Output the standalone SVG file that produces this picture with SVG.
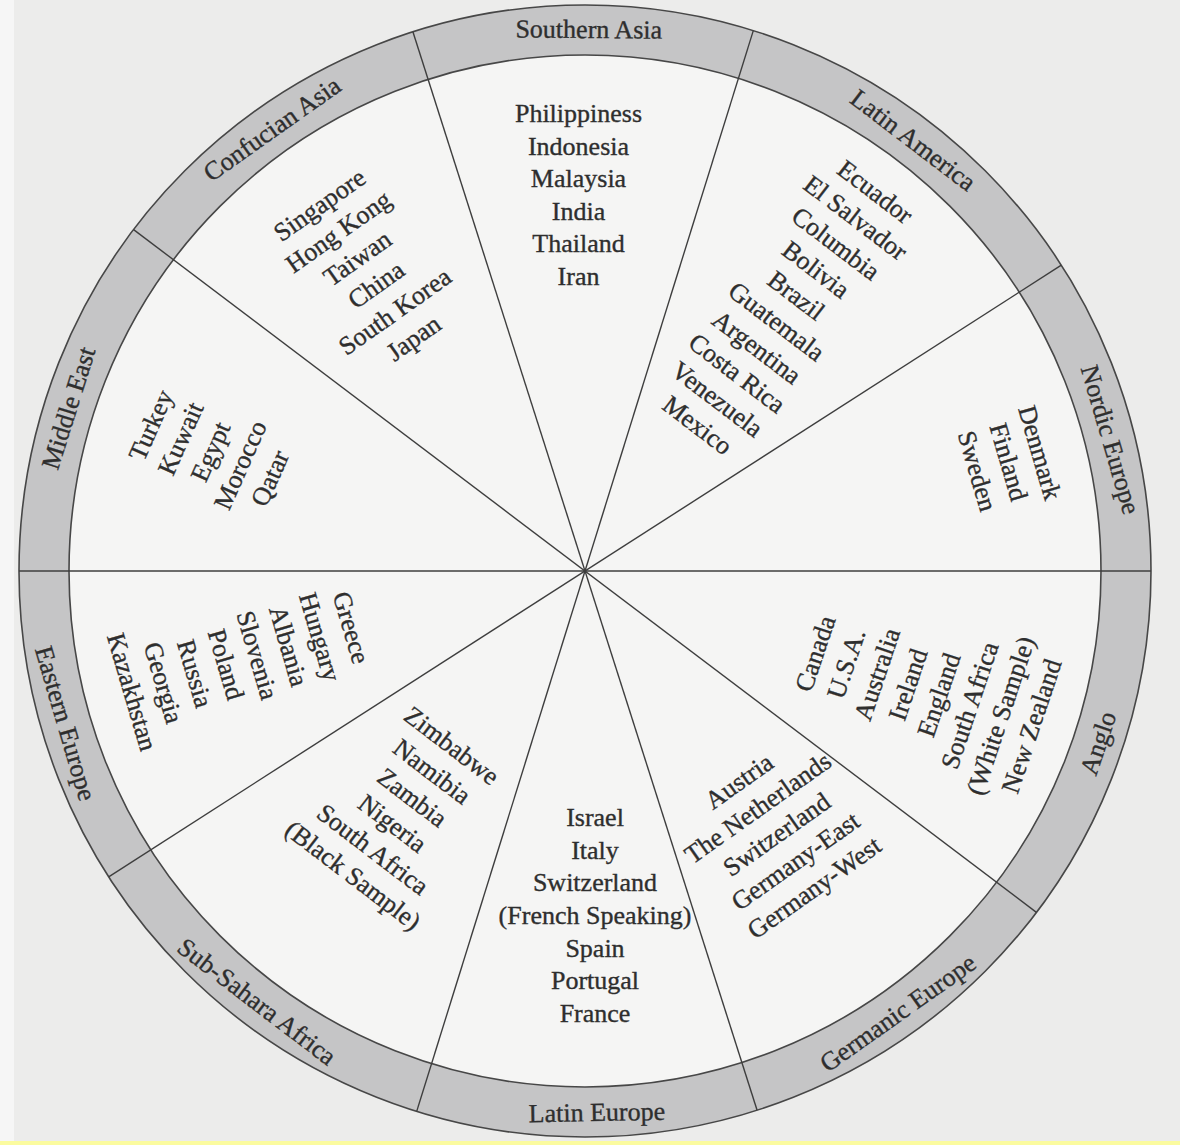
<svg xmlns="http://www.w3.org/2000/svg" width="1180" height="1145" viewBox="0 0 1180 1145">
  <style>
    text { font-family: "Liberation Serif", "Times New Roman", serif; font-size: 26px; fill: #2e2e2e; stroke: #2e2e2e; stroke-width: 0.35; text-anchor: middle; }
    .band { fill: #c5c5c6; stroke: #474747; stroke-width: 1.6; fill-rule: evenodd; }
    .disc { fill: #f5f5f4; }
    #dividers line { stroke: #3e3e3e; stroke-width: 1.4; }
  </style>

  <!-- page -->
  <rect width="1180" height="1145" fill="#ececeb"/>
  <rect x="0" y="0" width="14" height="1145" fill="#f6f6f6"/>
  <rect x="0" y="1141" width="1180" height="4" fill="#fbfb9f"/>

  <!-- outer band and inner disc, centre (585,571) -->
  <g id="ring">
    <circle class="disc" cx="585" cy="571" r="516"/>
    <path class="band" d="M19 571a566 566 0 1 0 1132 0a566 566 0 1 0-1132 0ZM69 571a516 516 0 1 0 1032 0a516 516 0 1 0-1032 0Z"/>
  </g>

  <!-- five diameters split the circle into ten clusters -->
  <g id="dividers">
    <line x1="19" y1="571" x2="1151" y2="571"/>
    <line x1="1061.3" y1="265.2" x2="108.7" y2="876.8"/>
    <line x1="753.3" y1="30.6" x2="416.7" y2="1111.4"/>
    <line x1="412.9" y1="31.8" x2="757.1" y2="1110.2"/>
    <line x1="133.6" y1="229.6" x2="1036.4" y2="912.4"/>
  </g>

  <g id="southern-asia">
    <text transform="translate(588.7,38) rotate(0.4)">Southern Asia</text>
    <g transform="translate(578.5,195.5)">
      <text y="-73.5">Philippiness</text>
      <text y="-40.9">Indonesia</text>
      <text y="-8.3">Malaysia</text>
      <text y="24.3">India</text>
      <text y="56.9">Thailand</text>
      <text y="89.5">Iran</text>
    </g>
  </g>

  <g id="latin-america">
    <text transform="translate(908,147) rotate(37.3)">Latin America</text>
    <g transform="translate(786,309) rotate(37.3)">
      <text y="-138.7">Ecuador</text>
      <text y="-106.1">El Salvador</text>
      <text y="-73.5">Columbia</text>
      <text y="-40.9">Bolivia</text>
      <text y="-8.3">Brazil</text>
      <text y="24.3">Guatemala</text>
      <text y="56.9">Argentina</text>
      <text y="89.5">Costa Rica</text>
      <text y="122.1">Venezuela</text>
      <text y="154.7">Mexico</text>
    </g>
  </g>

  <g id="nordic-europe">
    <text transform="translate(1102.2,442.1) rotate(73.65)">Nordic Europe</text>
    <g transform="translate(1008,462) rotate(73.65)">
      <text y="-24.6">Denmark</text>
      <text y="8">Finland</text>
      <text y="40.6">Sweden</text>
    </g>
  </g>

  <g id="anglo">
    <text transform="translate(1106.4,746) rotate(-71.45)">Anglo</text>
    <g transform="translate(924,690) rotate(-71.45)">
      <text y="-106.1">Canada</text>
      <text y="-73.5">U.S.A.</text>
      <text y="-40.9">Australia</text>
      <text y="-8.3">Ireland</text>
      <text y="24.3">England</text>
      <text y="56.9">South Africa</text>
      <text y="89.5">(White Sample)</text>
      <text y="122.1">New Zealand</text>
    </g>
  </g>

  <g id="germanic-europe">
    <text transform="translate(902.8,1019.9) rotate(-35.3)">Germanic Europe</text>
    <g transform="translate(777,835) rotate(-35.3)">
      <text y="-57.2">Austria</text>
      <text y="-24.6">The Netherlands</text>
      <text y="8">Switzerland</text>
      <text y="40.6">Germany-East</text>
      <text y="73.2">Germany-West</text>
    </g>
  </g>

  <g id="latin-europe">
    <text transform="translate(597,1121) rotate(-1)">Latin Europe</text>
    <g transform="translate(595,916)">
      <text y="-89.8">Israel</text>
      <text y="-57.2">Italy</text>
      <text y="-24.6">Switzerland</text>
      <text y="8">(French Speaking)</text>
      <text y="40.6">Spain</text>
      <text y="73.2">Portugal</text>
      <text y="105.8">France</text>
    </g>
  </g>

  <g id="sub-sahara-africa">
    <text transform="translate(251.7,1008.5) rotate(37.3)">Sub-Sahara Africa</text>
    <g transform="translate(402,811) rotate(37.3)">
      <text y="-73.5">Zimbabwe</text>
      <text y="-40.9">Namibia</text>
      <text y="-8.3">Zambia</text>
      <text y="24.3">Nigeria</text>
      <text y="56.9">South Africa</text>
      <text y="89.5">(Black Sample)</text>
    </g>
  </g>

  <g id="eastern-europe">
    <text transform="translate(57.2,725.8) rotate(73.65)">Eastern Europe</text>
    <g transform="translate(241,660) rotate(73.65)">
      <text y="-106.1">Greece</text>
      <text y="-73.5">Hungary</text>
      <text y="-40.9">Albania</text>
      <text y="-8.3">Slovenia</text>
      <text y="24.3">Poland</text>
      <text y="56.9">Russia</text>
      <text y="89.5">Georgia</text>
      <text y="122.1">Kazakhstan</text>
    </g>
  </g>

  <g id="middle-east">
    <text transform="translate(76.7,410.7) rotate(-72.5)">Middle East</text>
    <g transform="translate(211,452) rotate(-66)">
      <text y="-57.2">Turkey</text>
      <text y="-24.6">Kuwait</text>
      <text y="8">Egypt</text>
      <text y="40.6">Morocco</text>
      <text y="73.2">Qatar</text>
    </g>
  </g>

  <g id="confucian-asia">
    <text transform="translate(277,136) rotate(-35.3)">Confucian Asia</text>
    <g transform="translate(367,272) rotate(-35.3)">
      <text y="-73.5">Singapore</text>
      <text y="-40.9">Hong Kong</text>
      <text y="-8.3">Taiwan</text>
      <text y="24.3">China</text>
      <text y="56.9">South Korea</text>
      <text y="89.5">Japan</text>
    </g>
  </g>
</svg>
